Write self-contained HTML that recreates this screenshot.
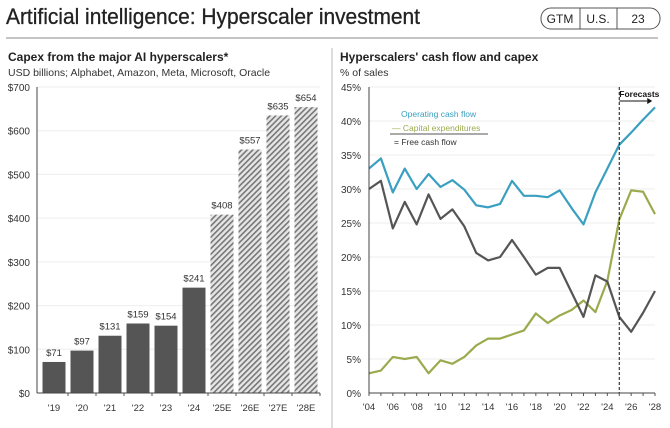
<!DOCTYPE html>
<html><head><meta charset="utf-8"><style>
body{margin:0;background:#fff;width:670px;height:428px;overflow:hidden;font-family:"Liberation Sans",sans-serif;}
svg{display:block}
</style></head><body>
<svg width="670" height="428" xmlns="http://www.w3.org/2000/svg" font-family="Liberation Sans, sans-serif">
<defs>
<pattern id="hatch" width="4" height="4" patternUnits="userSpaceOnUse" patternTransform="rotate(45)">
<rect width="4" height="4" fill="#e6e6e6"/><rect width="1.6" height="4" fill="#777"/>
</pattern>
</defs>
<text x="6" y="24" font-size="22" fill="#222" textLength="414" lengthAdjust="spacingAndGlyphs" stroke="#222" stroke-width="0.3">Artificial intelligence: Hyperscaler investment</text>
<g>
<rect x="541" y="8" width="119" height="21" rx="10" fill="none" stroke="#555"/>
<line x1="580" y1="8" x2="580" y2="29" stroke="#555"/><line x1="617" y1="8" x2="617" y2="29" stroke="#555"/>
<text x="560" y="23" font-size="12" text-anchor="middle" fill="#222">GTM</text>
<text x="598" y="23" font-size="12" text-anchor="middle" fill="#222">U.S.</text>
<text x="638" y="23" font-size="12" text-anchor="middle" fill="#222">23</text>
</g>
<line x1="6" y1="38" x2="658" y2="38" stroke="#888"/>
<line x1="332" y1="48" x2="332" y2="428" stroke="#bbb"/>
<text x="8" y="61" font-size="12" font-weight="bold" fill="#222">Capex from the major AI hyperscalers*</text>
<text x="8" y="76" font-size="10.5" fill="#333">USD billions; Alphabet, Amazon, Meta, Microsoft, Oracle</text>
<text x="340" y="61" font-size="12" font-weight="bold" fill="#222">Hyperscalers' cash flow and capex</text>
<text x="340" y="76" font-size="10.5" fill="#333">% of sales</text>
<g id="left"></g>
<g id="right"></g>
</svg>
<script>
const capexYears=["'19","'20","'21","'22","'23","'24","'25E","'26E","'27E","'28E"];
const capexValues=[71,97,131,159,154,241,408,557,635,654];
const capexForecast=[false,false,false,false,false,false,true,true,true,true];
const leftTicks=[0,100,200,300,400,500,600,700];

const years=["'04","'05","'06","'07","'08","'09","'10","'11","'12","'13","'14","'15","'16","'17","'18","'19","'20","'21","'22","'23","'24","'25","'26","'27","'28"];
const ocf=[33,34.5,29.5,33,30,32.2,30.3,31.3,29.9,27.6,27.3,27.8,31.2,29,29,28.8,29.8,27.2,24.8,29.5,33,36.5,38.3,40.2,42];
const capexPct=[2.9,3.3,5.3,5,5.3,2.9,4.8,4.3,5.3,7,8,8,8.6,9.2,11.7,10.3,11.4,12.2,13.6,11.9,16.5,25.5,29.8,29.6,26.3];
const fcf=[30,31.2,24.2,28.1,24.8,29.2,25.6,27,24.5,20.6,19.5,20,22.5,20,17.4,18.4,18.4,14.8,11.2,17.3,16.4,11.2,9,11.8,15];
const rightTicks=[0,5,10,15,20,25,30,35,40,45];
const forecastStartIndex=21;

const NS="http://www.w3.org/2000/svg";
function mk(parent,tag,attrs,text){const e=document.createElementNS(NS,tag);for(const k in attrs)e.setAttribute(k,attrs[k]);if(text!==undefined)e.textContent=text;parent.appendChild(e);return e;}

// left chart
const L=document.getElementById('left');
const lx0=37,lx1=320,ly0=393,ly1=87;
const ly=v=>ly0-(v/700)*(ly0-ly1);
const step=(lx1-lx0-3)/capexValues.length;
const lxc=i=>lx0+3+step*(i+0.5);
leftTicks.forEach(t=>{
  if(t>0){const g=mk(L,'line',{x1:lx0,x2:lx1,y1:ly(t),y2:ly(t),stroke:'#eee'});
  
  }
  const tx=mk(L,'text',{x:30,y:ly(t)+4,'font-size':10,'text-anchor':'end',fill:'#333'},'$'+t);
  
  
});
capexValues.forEach((v,i)=>{
  const w=23;
  const r=mk(L,'rect',{x:lxc(i)-w/2,y:ly(v),width:w,height:ly0-ly(v),fill:capexForecast[i]?'url(#hatch)':'#555'});
  
  
  const lb=mk(L,'text',{x:lxc(i),y:ly(v)-6,'font-size':9.5,'text-anchor':'middle',fill:'#333'},'$'+v);
  
  
  const xl=mk(L,'text',{x:lxc(i),y:411,'font-size':9.5,'text-anchor':'middle',fill:'#333'},capexYears[i]);
  
  
  mk(L,'line',{x1:lxc(i)+step/2,x2:lxc(i)+step/2,y1:ly0,y2:ly0+3,stroke:'#555'});
});
const la=mk(L,'line',{x1:lx0,x2:lx0,y1:ly1,y2:ly0,stroke:'#444'});


const lb2=mk(L,'line',{x1:lx0,x2:lx1,y1:ly0,y2:ly0,stroke:'#444'});



// right chart
const R=document.getElementById('right');
const rx0=369,rx1=655,ry0=393,ry1=87;
const rx=i=>rx0+(rx1-rx0)*i/(years.length-1);
const ry=v=>ry0-(v/45)*(ry0-ry1);
rightTicks.forEach(t=>{
  if(t>0){const g=mk(R,'line',{x1:rx0,x2:rx1,y1:ry(t),y2:ry(t),stroke:'#eee'});
  
  }
  const tx=mk(R,'text',{x:361,y:ry(t)+4,'font-size':10,'text-anchor':'end',fill:'#333'},t+'%');
  
  
});
years.forEach((y,i)=>{
  mk(R,'line',{x1:rx(i),x2:rx(i),y1:ry0,y2:ry0+3,stroke:'#555'});
  if(i%2===0){const xl=mk(R,'text',{x:rx(i),y:410,'font-size':9.5,'text-anchor':'middle',fill:'#333'},y);
  
  }
});
function series(arr,color,name){
  const p=mk(R,'polyline',{points:arr.map((v,i)=>rx(i)+','+ry(v)).join(' '),fill:'none',stroke:color,'stroke-width':2.2,'stroke-linejoin':'round'});
  
  
}
series(capexPct,'#9aab4e','capex-line');
series(fcf,'#555555','free-cash-flow-line');
series(ocf,'#3a9fc0','operating-cash-flow-line');
const fx=rx(forecastStartIndex);
const fl=mk(R,'line',{x1:fx,x2:fx,y1:ry1,y2:ry0,stroke:'#111','stroke-dasharray':'3,2'});


const ft=mk(R,'text',{x:fx,y:97,'font-size':8.5,fill:'#111','font-weight':'bold'},'Forecasts');


mk(R,'line',{x1:fx,x2:fx+28,y1:101,y2:101,stroke:'#111'});
mk(R,'polygon',{points:(fx+28)+',98 '+(fx+33)+',101 '+(fx+28)+',104',fill:'#111'});
const ra=mk(R,'line',{x1:rx0,x2:rx0,y1:ry1,y2:ry0,stroke:'#444'});


const rb=mk(R,'line',{x1:rx0,x2:rx1,y1:ry0,y2:ry0,stroke:'#444'});


// legend
const e1=mk(R,'text',{x:401,y:117,'font-size':8.5,fill:'#3a9fc0'},'Operating cash flow');


const e2=mk(R,'text',{x:392,y:131,'font-size':8.5,fill:'#9aab4e'},'— Capital expenditures');


mk(R,'line',{x1:390,x2:488,y1:134,y2:134,stroke:'#555'});
const e3=mk(R,'text',{x:394,y:145,'font-size':8.5,fill:'#333'},'= Free cash flow');


</script>
</body></html>
